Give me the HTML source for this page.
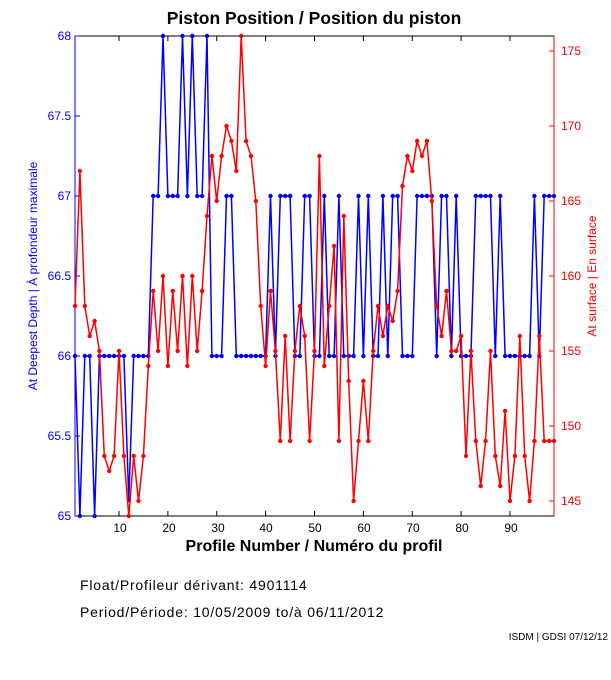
<!DOCTYPE html>
<html><head><meta charset="utf-8"><style>
body{margin:0;background:#fff;width:611px;height:675px;overflow:hidden;font-family:"Liberation Sans",sans-serif}
</style></head><body>
<svg id="s" width="611" height="675" xmlns="http://www.w3.org/2000/svg" font-family="Liberation Sans, sans-serif">
<rect width="611" height="675" fill="#fff"/>
<text x="314" y="24" font-size="17.5" font-weight="bold" text-anchor="middle">Piston Position / Position du piston</text>
<rect x="75" y="36" width="479" height="480" fill="none" stroke="#000" stroke-width="1"/>
<line x1="75" y1="36" x2="75" y2="516" stroke="#00f"/>
<line x1="554" y1="36" x2="554" y2="516" stroke="#f00"/>
<g id="ticks"></g>
<g font-size="12" fill="#00f" text-anchor="end">
<text x="71" y="40">68</text><text x="71" y="120">67.5</text><text x="71" y="200">67</text><text x="71" y="280">66.5</text><text x="71" y="360">66</text><text x="71" y="440">65.5</text><text x="71" y="520">65</text>
</g>
<g font-size="12" fill="#f00">
<text x="561" y="55">175</text><text x="561" y="130">170</text><text x="561" y="205">165</text><text x="561" y="280">160</text><text x="561" y="355">155</text><text x="561" y="430">150</text><text x="561" y="505">145</text>
</g>
<g font-size="12" text-anchor="middle">
<text x="120" y="532">10</text><text x="169" y="532">20</text><text x="218" y="532">30</text><text x="266" y="532">40</text><text x="315" y="532">50</text><text x="364" y="532">60</text><text x="413" y="532">70</text><text x="462" y="532">80</text><text x="511" y="532">90</text>
</g>
<text x="314" y="551" font-size="16" font-weight="bold" text-anchor="middle">Profile Number / Numéro du profil</text>
<text transform="translate(37,276) rotate(-90)" font-size="12" fill="#00f" text-anchor="middle">At Deepest Depth | À profondeur maximale</text>
<text transform="translate(596,276) rotate(-90)" font-size="12" fill="#f00" text-anchor="middle">At surface | En surface</text>
<g id="data"></g>
<text x="80" y="590" font-size="14" letter-spacing="0.8">Float/Profileur dérivant:  4901114</text>
<text x="80" y="617" font-size="14" letter-spacing="0.8">Period/Période:  10/05/2009  to/à  06/11/2012</text>
<text x="608" y="640" font-size="10" text-anchor="end">ISDM | GDSI 07/12/12</text>
</svg>
<script>
var blue=[66,65,66,66,65,66,66,66,66,66,66,65.1,66,66,66,66,67,67,68,67,67,67,68,67,68,67,67,68,66,66,66,67,67,66,66,66,66,66,66,66,67,66,67,67,67,66,66,67,67,66,66,67,66,66,67,66,66,66,67,66,67,66,66,67,66,67,67,66,66,66,67,67,67,67,66,67,67,66,67,66,66,66,67,67,67,67,66,67,66,66,66,66,66,66,67,66,67,67,67];
var red=[158,167,158,156,157,155,148,147,148,155,148,144,148,145,148,154,159,155,160,154,159,155,160,154,160,155,159,164,168,165,168,170,169,167,176,169,168,165,158,154,159,155,149,156,149,155,158,156,149,155,168,154,158,162,149,164,153,145,149,153,149,155,158,156,158,157,159,166,168,167,169,168,169,165,158,156,159,155,155,156,148,155,149,146,149,155,148,146,151,145,148,156,148,145,149,156,149,149,149];
function X(n){return 75+(n-1)*479/98}
function YB(v){return 36+(68-v)*160}
function YR(v){return 36+(176-v)*15}
var g=document.getElementById('data'),h='';
function series(arr,f,c){var p='';arr.forEach(function(v,i){p+=(i?'L':'M')+X(i+1).toFixed(1)+' '+f(v).toFixed(1)});
h+='<path d="'+p+'" fill="none" stroke="'+c+'" stroke-width="1.5"/>';
arr.forEach(function(v,i){h+='<circle cx="'+X(i+1).toFixed(1)+'" cy="'+f(v).toFixed(1)+'" r="2.2" fill="'+c+'"/>'});}
series(blue,YB,'#00f');series(red,YR,'#f00');
g.innerHTML=h;
var t='';
for(var n=10;n<=90;n+=10){t+='<line x1="'+X(n)+'" y1="36" x2="'+X(n)+'" y2="41" stroke="#000"/><line x1="'+X(n)+'" y1="516" x2="'+X(n)+'" y2="511" stroke="#000"/>';}
for(var v=65;v<=68;v+=0.5){var y=YB(v);t+='<line x1="75" y1="'+y+'" x2="80" y2="'+y+'" stroke="#00f"/>';}
for(var r=145;r<=175;r+=5){var y=YR(r);t+='<line x1="549" y1="'+y+'" x2="554" y2="'+y+'" stroke="#f00"/>';}
document.getElementById('ticks').innerHTML=t;
</script>
</body></html>
